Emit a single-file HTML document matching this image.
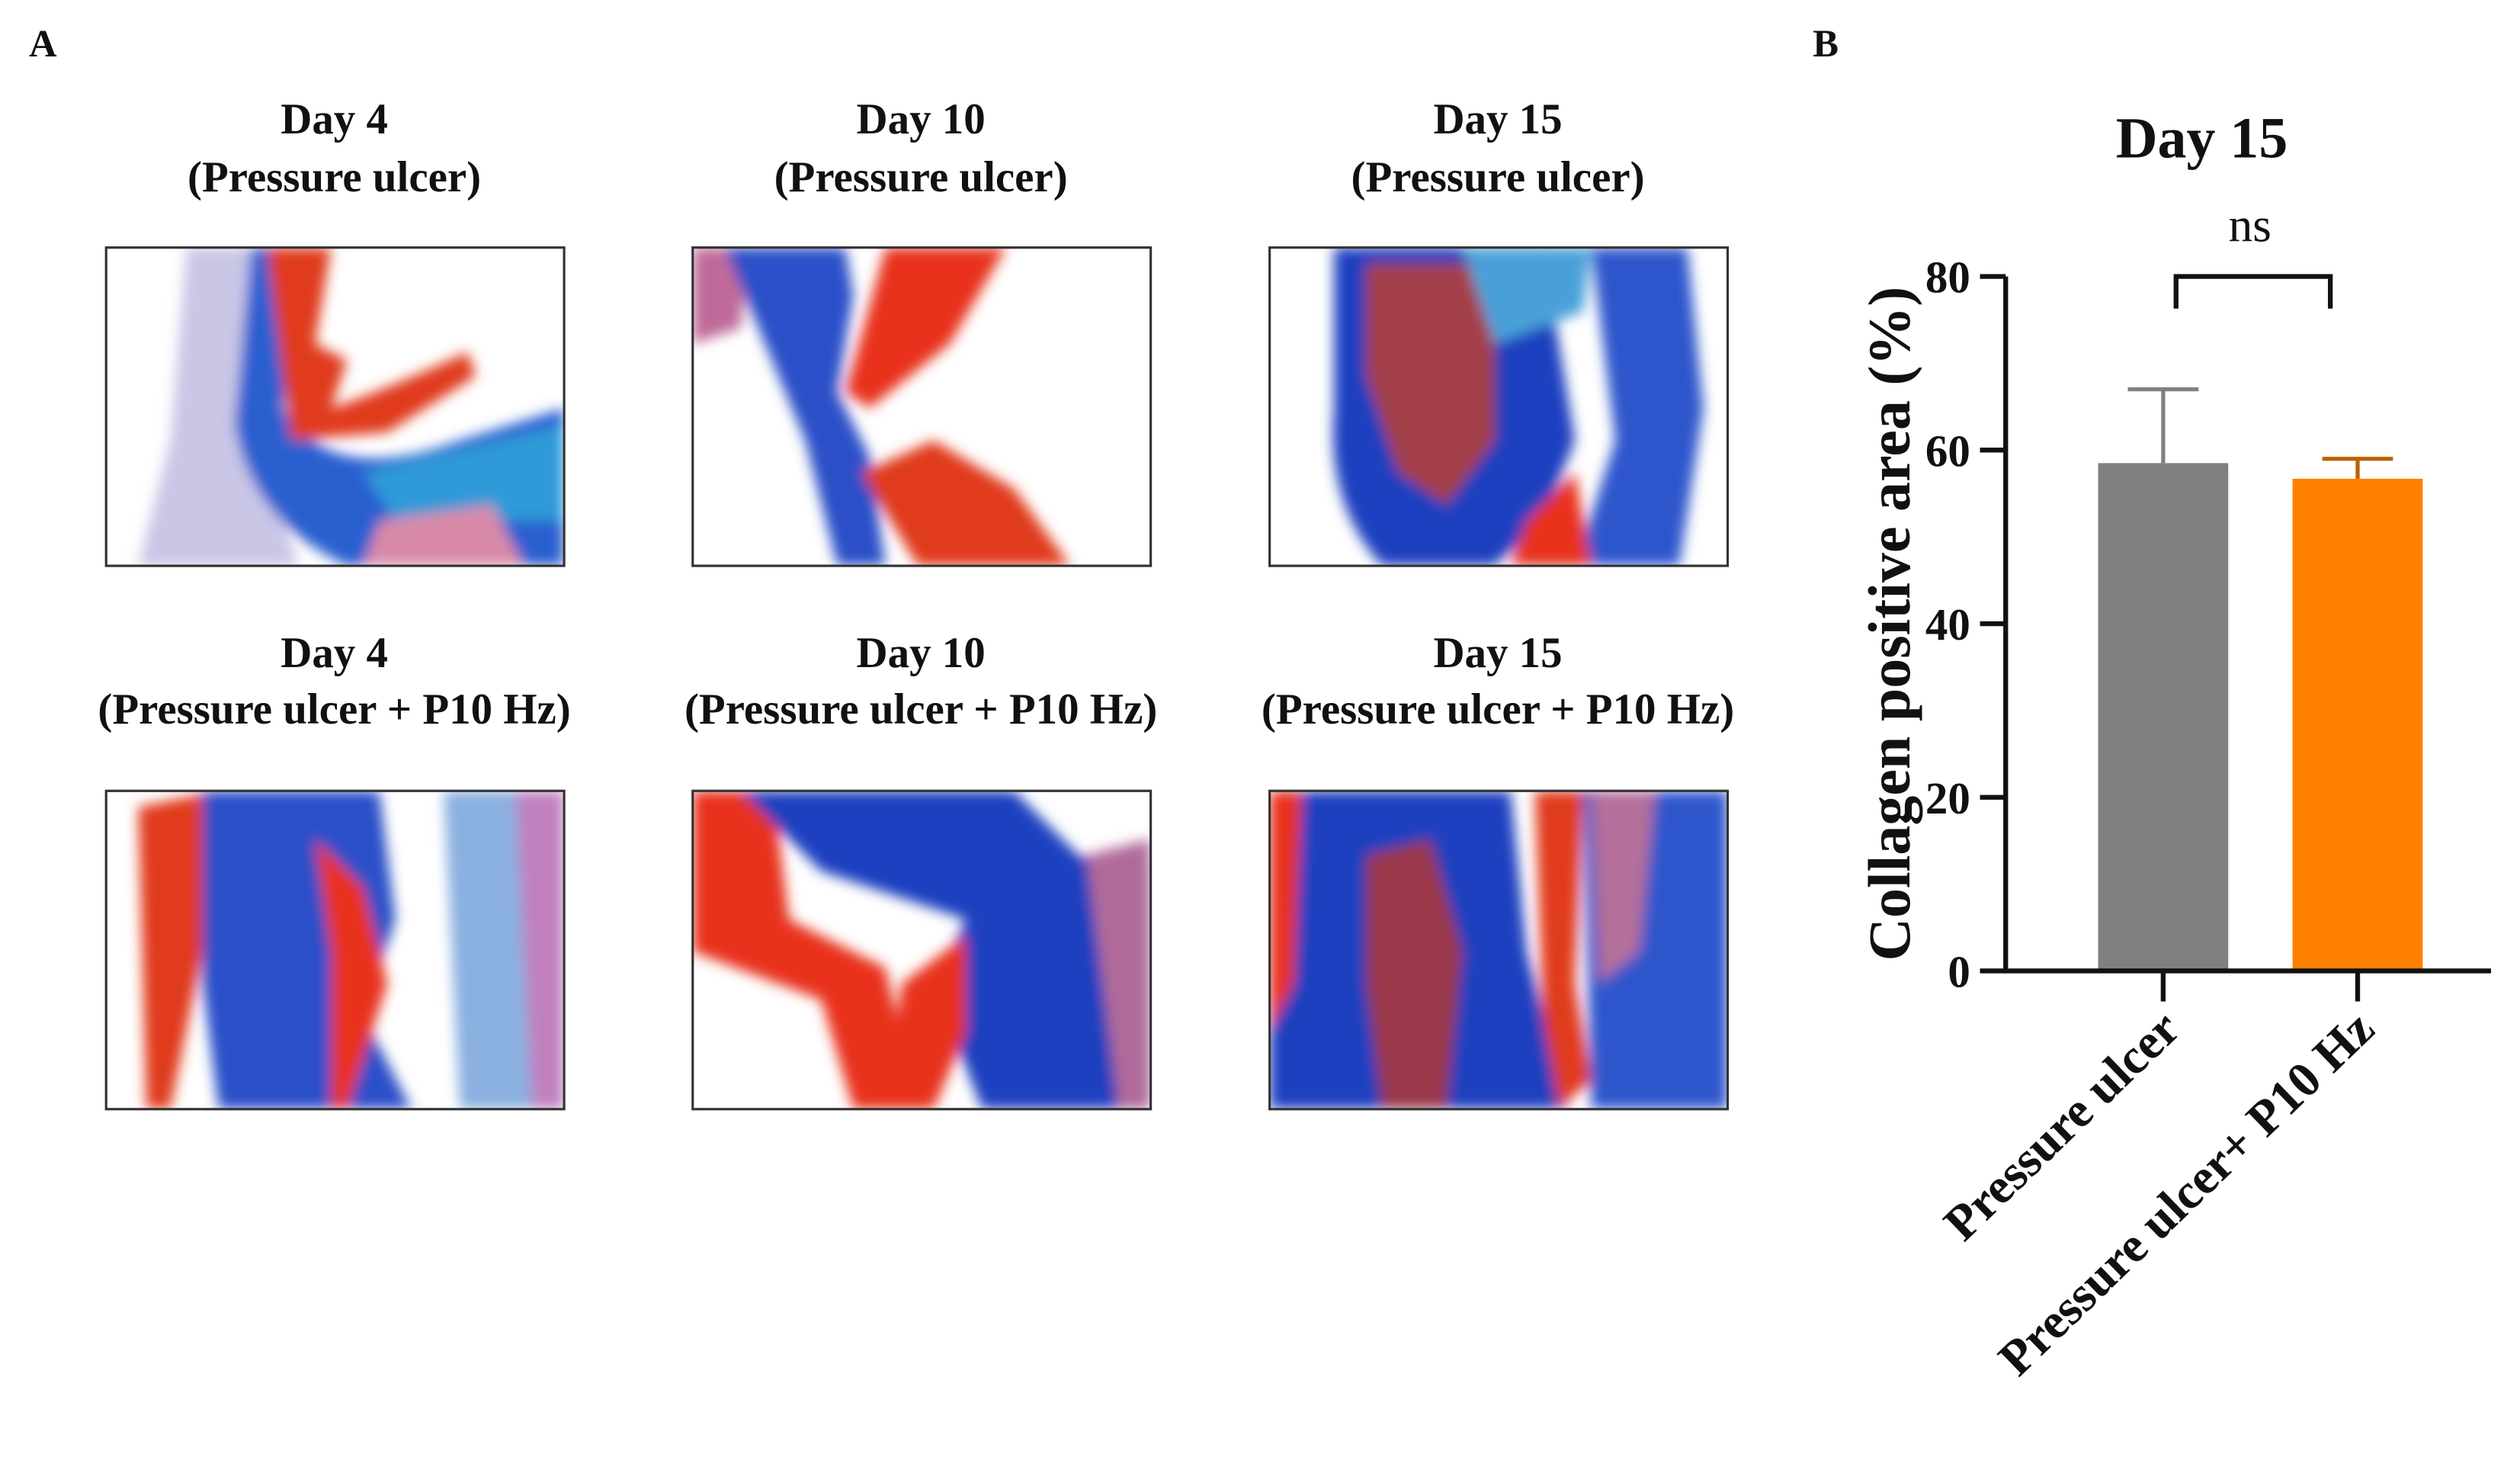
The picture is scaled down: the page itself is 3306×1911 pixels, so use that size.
<!DOCTYPE html>
<html><head><meta charset="utf-8"><style>
html,body{margin:0;padding:0;background:#fff}
svg{display:block}
text{font-family:"Liberation Serif",serif;font-weight:bold;fill:#111}
</style></head><body>
<svg id="fig" width="3306" height="1911" viewBox="0 0 1568 906.4" xmlns="http://www.w3.org/2000/svg">
<defs>
<filter id="blur" x="-10%" y="-10%" width="120%" height="120%"><feGaussianBlur stdDeviation="4"/></filter>
</defs>
<text x="18" y="35" font-size="24">A</text>
<text x="1128" y="35" font-size="24">B</text>
<g id="panelA"></g>
<g id="chart"></g>
</svg>
<script>
const NS="http://www.w3.org/2000/svg";
function mk(tag,attrs,parent){const e=document.createElementNS(NS,tag);for(const k in attrs)e.setAttribute(k,attrs[k]);parent.appendChild(e);return e;}
// ---- Panel A ----
const pA=document.getElementById('panelA');
const colCenters=[208,573,932];
const colX=[66,431,790];
const rowTitleY=[[83,119],[415,450]];
const rowBoxY=[154,492];
const days=["Day 4","Day 10","Day 15"];
const subs=["(Pressure ulcer)","(Pressure ulcer + P10 Hz)"];
const shapes=[
 [["#c9c6e6","M50,0 L130,0 L120,80 L100,140 L120,198 L20,198 L40,120 Z"],["#2a5fd0","M90,0 L120,0 L110,100 Q140,150 220,120 L285,100 L285,198 L150,198 Q90,170 80,110 Z"],["#2e9ad8","M160,140 L285,110 L285,170 L180,170 Z"],["#e03a1a","M100,0 L140,0 L130,60 L150,70 L140,100 Q170,90 225,65 L230,80 L175,115 L115,120 Z"],["#d88aa8","M170,170 L240,160 L260,198 L160,198 Z"]],
 [["#c06a9a","M0,0 L35,0 L30,50 L0,60 Z"],["#2a4fc8","M20,0 L95,0 L100,30 L90,90 L110,130 L120,198 L90,198 L70,120 Z"],["#e8321c","M120,0 L195,0 L160,60 L110,100 L95,90 Z"],["#e03a1a","M105,140 L150,120 L200,150 L235,198 L140,198 Z"]],
 [["#1f3fbf","M40,0 L170,0 L180,60 L190,120 L170,170 L140,198 L70,198 Q35,160 40,100 Z"],["#a4404a","M60,10 L140,10 L140,120 L110,160 L80,140 L60,80 Z"],["#2f57cc","M200,0 L260,0 L270,100 L255,198 L190,198 L215,120 Z"],["#e8321c","M160,170 L190,140 L200,198 L150,198 Z"],["#4aa0d8","M120,0 L200,0 L195,40 L140,60 Z"]],
 [["#e03a1a","M20,10 L70,0 L60,100 L40,198 L25,198 Z"],["#2a4fc8","M60,0 L170,0 L180,80 L160,140 L190,198 L70,198 L60,120 Z"],["#e8321c","M130,30 L160,60 L175,120 L150,198 L140,198 L140,100 Z"],["#8ab0e0","M210,0 L260,0 L270,198 L220,198 Z"],["#c080c0","M255,0 L285,0 L285,198 L265,198 Z"]],
 [["#e8321c","M0,0 L50,0 L60,80 L120,110 L140,198 L100,198 L80,130 L0,100 Z"],["#1f3fbf","M30,0 L200,0 L240,40 L285,50 L285,198 L180,198 L150,120 L170,80 L80,50 Z"],["#e8321c","M130,120 L170,90 L170,150 L150,198 L120,198 Z"],["#b06a9a","M245,40 L285,30 L285,198 L265,198 Z"]],
 [["#1f3fbf","M0,0 L150,0 L160,100 L185,198 L0,198 Z"],["#9a3848","M60,40 L100,30 L120,100 L110,198 L70,198 L60,120 Z"],["#e8321c","M0,0 L20,0 L15,120 L0,150 Z"],["#e03a1a","M165,0 L195,0 L190,120 L200,180 L180,198 L170,140 Z"],["#2f57cc","M195,0 L285,0 L285,198 L200,198 Z"],["#b4709a","M200,0 L240,0 L230,100 L205,120 Z"]]
];
for(let r=0;r<2;r++){
 for(let c=0;c<3;c++){
  const t1=mk('text',{x:colCenters[c],y:rowTitleY[r][0],'font-size':27,'text-anchor':'middle'},pA);
  
  
  t1.textContent=days[c];
  const t2=mk('text',{x:colCenters[c],y:rowTitleY[r][1],'font-size':27,'text-anchor':'middle'},pA);
  
  
  t2.textContent=subs[r];
  const g=mk('g',{transform:`translate(${colX[c]},${rowBoxY[r]})`},pA);
  
  
  mk('rect',{x:0,y:0,width:285,height:198,fill:'#fff'},g);
  const clip=mk('clipPath',{id:'cl'+r+c},g);mk('rect',{x:0,y:0,width:285,height:198},clip);
  const inner=mk('g',{'clip-path':`url(#cl${r}${c})`},g);
  const gi=mk('g',{filter:'url(#blur)'},inner);
  for(const s of shapes[r*3+c]) mk('path',{d:s[1],fill:s[0]},gi);
  mk('rect',{x:0,y:0,width:285,height:198,fill:'none',stroke:'#333','stroke-width':1.5},g);
 }
}
// ---- Chart ----
const categories=["Pressure ulcer","Pressure ulcer+ P10 Hz"];
const means=[58.5,56.7];
const errors=[8.5,2.3];
const yTicks=[0,20,40,60,80];
const colors=["#808080","#ff8000"];
const ch=document.getElementById('chart');
const x0=1248,y0=604,yTop=172,yMax=80;
const yS=v=>y0-(v/yMax)*(y0-yTop);
const xC=i=>1346+i*121;
const bw=81;
const title=mk('text',{x:1370,y:98,'font-size':36,'text-anchor':'middle'},ch);


title.textContent="Day 15";
categories.forEach((cat,i)=>{
 const b=mk('rect',{x:xC(i)-bw/2,y:yS(means[i]),width:bw,height:y0-yS(means[i]),fill:colors[i]},ch);
 
 
 const e=mk('path',{d:`M${xC(i)},${yS(means[i])} V${yS(means[i]+errors[i])} M${xC(i)-22},${yS(means[i]+errors[i])} H${xC(i)+22}`,stroke:colors[i]==='#ff8000'?'#c06000':'#808080','stroke-width':2.5,fill:'none'},ch);
 
 
 const tk=mk('line',{x1:xC(i),x2:xC(i),y1:y0,y2:y0+19,stroke:'#111','stroke-width':3},ch);
 
 
 const lx=xC(i)+12,ly=y0+38;
 const lab=mk('text',{x:lx,y:ly,'font-size':31,'text-anchor':'end',transform:`rotate(-44 ${lx} ${ly})`},ch);
 
 
 lab.textContent=cat;
});
yTicks.forEach(v=>{
 const l=mk('line',{x1:x0-16,x2:x0,y1:yS(v),y2:yS(v),stroke:'#111','stroke-width':3},ch);
 
 
 const t=mk('text',{x:x0-22,y:yS(v)+10,'font-size':28,'text-anchor':'end'},ch);
 
 
 t.textContent=v;
});
const ax=mk('path',{d:`M${x0},${yTop} V${y0} H1550`,stroke:'#111','stroke-width':3,fill:'none'},ch);


const br=mk('path',{d:`M${xC(0)+8},192 V172 H${xC(1)-17} V192`,stroke:'#111','stroke-width':3,fill:'none'},ch);


const ns=mk('text',{x:1400,y:150,'font-size':30,'text-anchor':'middle'},ch);


ns.setAttribute('style','font-weight:normal');
ns.textContent="ns";
const yl=mk('text',{x:1188,y:388,'font-size':37,'text-anchor':'middle',transform:'rotate(-90 1188 388)'},ch);


yl.textContent="Collagen positive area (%)";
</script>
</body></html>
